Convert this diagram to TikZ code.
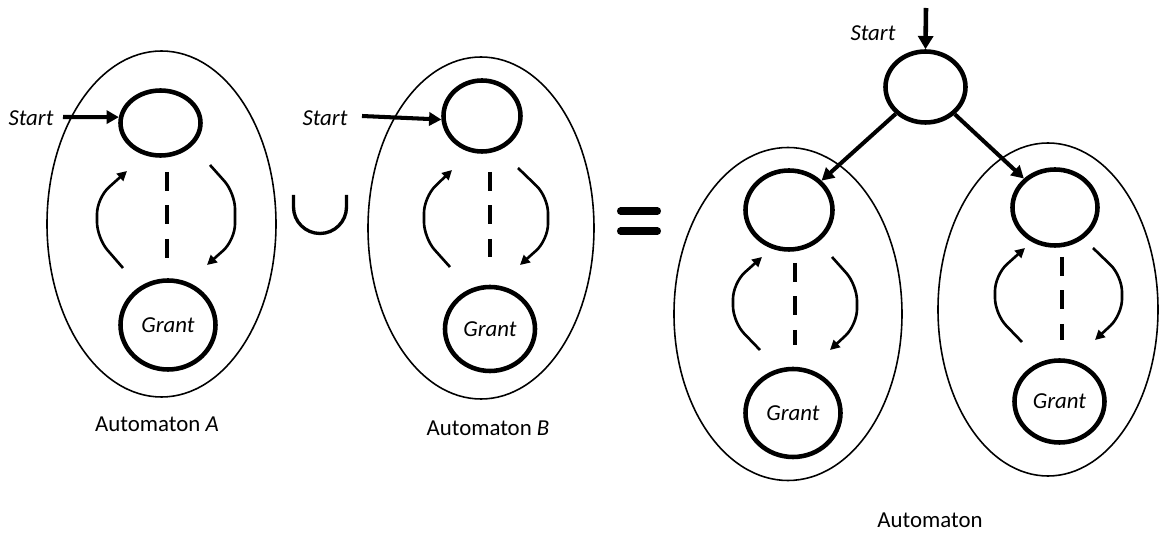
\documentclass[tikz,border=0pt]{standalone}
\usepackage{fontspec}
\setmainfont{Carlito}
\usetikzlibrary{arrows.meta,shapes.geometric}
\newdimen\pxl
\pxl=0.02cm
\tikzset{
  state/.style={draw, ellipse, line width=2.6pt, inner sep=0pt},
  region/.style={draw, ellipse, line width=0.9pt, inner sep=0pt},
  looparrow/.style={line width=1.5pt, rounded corners=9pt,
    -{Triangle[length=5.5pt,width=5.5pt]}},
  startarrow/.style={line width=2.3pt, -{Triangle[length=7pt,width=7.5pt]}},
  gapline/.style={line width=2.4pt, dash pattern=on 10.8pt off 8.2pt},
  lbl/.style={font=\fontsize{13}{15}\selectfont\itshape, inner sep=1pt},
  caption/.style={inner sep=1pt},
}
\begin{document}
\begin{tikzpicture}[x=0.02cm, y=-0.02cm, font=\fontsize{13}{15}\selectfont]
\useasboundingbox (0,0) rectangle (1161,540);

% ---------- Automaton A ----------
\node[region, minimum width=229\pxl, minimum height=346\pxl] (oA) at (161.5,224) {};
\node[state, minimum width=80\pxl, minimum height=65\pxl] (tA) at (160.5,123) {};
\node[state, minimum width=95\pxl, minimum height=89\pxl] (gA) at (168,325) {\itshape Grant};
\node[lbl] (sA) at (31,118) {Start};
\coordinate (inA) at (63,117);
\draw[startarrow] (inA) -- (tA.172);
\draw[gapline] (167,172) -- (167,258);
\draw[looparrow] (123,268) -- (97,238) -- (97,198) -- (127,171);
\draw[looparrow] (210,165) -- (235,193) -- (235,240) -- (207,265);
\node[caption] (cA) at (157,424) {Automaton \textit{A}};

% ---------- union sign ----------
\draw[line width=1.9pt] (293.5,195) -- (293.5,207)
  .. controls (293.5,221.6) and (305.4,233.5) .. (320,233.5)
  .. controls (334.6,233.5) and (346.5,221.6) .. (346.5,207) -- (346.5,195);

% ---------- Automaton B ----------
\node[region, minimum width=226\pxl, minimum height=342\pxl] (oB) at (481,228) {};
\node[state, minimum width=77\pxl, minimum height=71\pxl] (tB) at (482,116) {};
\node[state, minimum width=90\pxl, minimum height=84\pxl] (gB) at (490,329) {\itshape Grant};
\node[lbl] (sB) at (325,118) {Start};
\coordinate (inB) at (362,116);
\draw[startarrow] (inB) -- (tB.185);
\draw[gapline] (490,172) -- (490,257);
\draw[looparrow] (450,267) -- (424,238) -- (424,197) -- (452,170);
\draw[looparrow] (518,168) -- (548,197) -- (548,240) -- (520,265);
\node[caption] (cB) at (488,428) {Automaton \textit{B}};

% ---------- equals sign ----------
\draw[line width=4pt, line cap=round] (620.5,211) -- (657.5,211);
\draw[line width=4pt, line cap=round] (620.5,231) -- (657.5,231);

% ---------- union automaton ----------
\node[state, minimum width=80\pxl, minimum height=71\pxl] (s0) at (925.5,87) {};
\node[lbl] (s0lbl) at (873,33) {Start};
\coordinate (in0) at (926,8);
\draw[line width=2.6pt, -{Triangle[length=7.5pt,width=8.5pt]}] (in0) -- (s0.north);

% left copy
\node[region, minimum width=228\pxl, minimum height=333\pxl] (oL) at (788,314) {};
\node[state, minimum width=87\pxl, minimum height=79\pxl] (tL) at (789,210) {};
\node[state, minimum width=95\pxl, minimum height=88\pxl] (gL) at (793,413) {\itshape Grant};
\draw[gapline] (795,263) -- (795,345);
\draw[looparrow] (760,350) -- (733,322) -- (733,283) -- (762,257);
\draw[looparrow] (832,257) -- (857,285) -- (857,325) -- (830,350);

% right copy
\node[region, minimum width=220\pxl, minimum height=333\pxl] (oR) at (1048,309.5) {};
\node[state, minimum width=85\pxl, minimum height=76\pxl] (tR) at (1055,207.5) {};
\node[state, minimum width=90\pxl, minimum height=82\pxl] (gR) at (1059.5,401.5) {\itshape Grant};
\draw[gapline] (1062,257) -- (1062,340);
\draw[looparrow] (1022,342) -- (995,314) -- (995,275) -- (1025,248);
\draw[looparrow] (1093,248) -- (1122,276) -- (1122,315) -- (1095,340);

% branching from the new start state
\draw[startarrow] (s0) -- (tL);
\draw[startarrow] (s0) -- (tR);

\node[caption] (cU) at (930,520) {Automaton};
\end{tikzpicture}
\end{document}
